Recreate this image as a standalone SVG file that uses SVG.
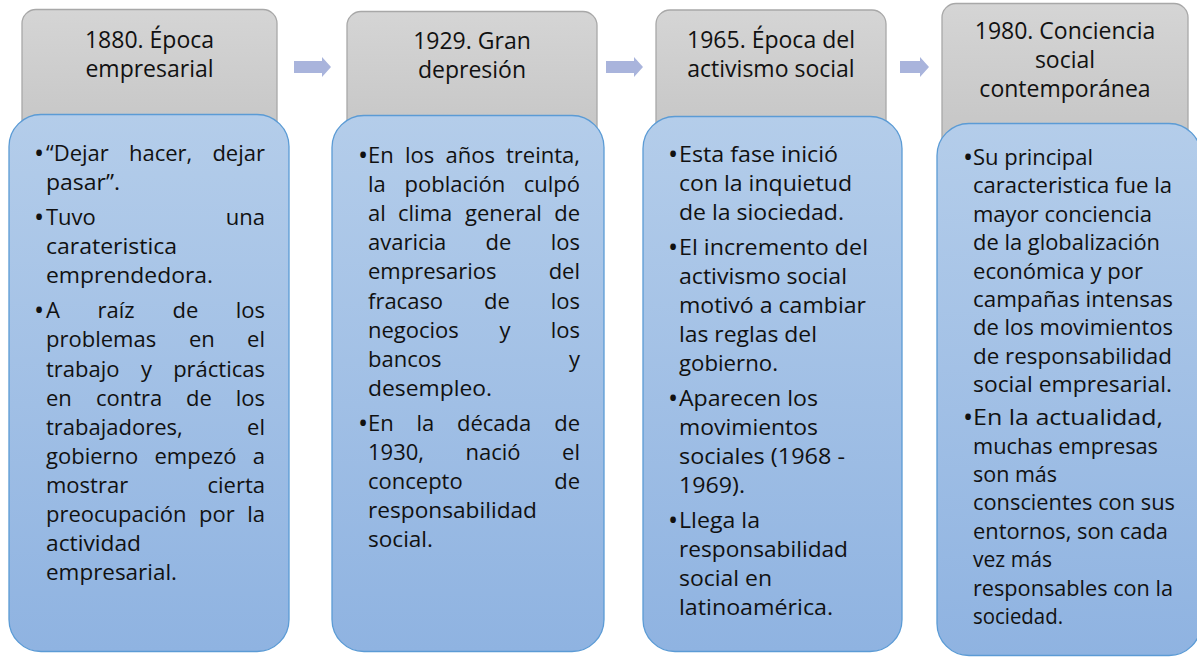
<svg xmlns="http://www.w3.org/2000/svg" width="1197" height="658" viewBox="0 0 1197 658">
<defs>
<linearGradient id="gg" x1="0" y1="0" x2="0" y2="1"><stop offset="0" stop-color="#d5d5d5"/><stop offset="1" stop-color="#c4c4c4"/></linearGradient>
<linearGradient id="bg" x1="0" y1="0" x2="0" y2="1"><stop offset="0" stop-color="#b4cdea"/><stop offset="1" stop-color="#8fb3e1"/></linearGradient>
<style>
.hd{font-family:"Open Sans","Noto Sans",sans-serif;font-size:23px;fill:#111;text-anchor:middle}
.t{font-family:"Open Sans","Noto Sans",sans-serif;font-size:22px;fill:#111}
.bu{font-family:"Open Sans","Noto Sans",sans-serif;font-size:27px;fill:#111}
.e{text-anchor:end}
.g{fill:url(#gg);stroke:#a8a8a8;stroke-width:1.3}
.b{fill:url(#bg);stroke:#5b9bd5;stroke-width:1.3}
.ar{fill:#a9b4dc}
</style>
</defs>
<rect width="1197" height="658" fill="#ffffff"/>

<g id="connectors">
<path class="ar" d="M294,61 H322 V57 L331,67 L322,77 V73 H294 Z"/>
<path class="ar" d="M606,61 H634 V57 L643,67 L634,77 V73 H606 Z"/>
<path class="ar" d="M900,61 H920 V57 L929,67 L920,77 V73 H900 Z"/>
</g>

<g id="stage1">
<g id="stage1-title">
<rect class="g" x="22" y="9.5" width="255" height="140" rx="14"/>
<text class="hd" x="149.5" y="48">1880. Época</text>
<text class="hd" x="149.5" y="77">empresarial</text>
</g>
<g id="stage1-body">
<rect class="b" x="9" y="114.5" width="280" height="537" rx="32"/>
<text class="bu" x="34" y="163">•</text>
<text class="t" y="161"><tspan x="46">“Dejar</tspan><tspan x="129">hacer,</tspan></text><text class="t e" x="265" y="161">dejar</text>
<text class="t" x="46" y="190.1" textLength="74" lengthAdjust="spacingAndGlyphs">pasar”.</text>
<text class="bu" x="34" y="227.1">•</text>
<text class="t" x="46" y="225.1">Tuvo</text><text class="t e" x="265" y="225.1">una</text>
<text class="t" x="46" y="254.2" textLength="131" lengthAdjust="spacingAndGlyphs">carateristica</text>
<text class="t" x="46" y="283.3" textLength="167" lengthAdjust="spacingAndGlyphs">emprendedora.</text>
<text class="bu" x="34" y="320.3">•</text>
<text class="t" y="318.3"><tspan x="46">A</tspan><tspan x="97.5">raíz</tspan><tspan x="172.5">de</tspan></text><text class="t e" x="265" y="318.3">los</text>
<text class="t" y="347.4"><tspan x="46">problemas</tspan><tspan x="189">en</tspan></text><text class="t e" x="265" y="347.4">el</text>
<text class="t" y="376.5"><tspan x="46">trabajo</tspan><tspan x="141">y</tspan></text><text class="t e" x="265" y="376.5">prácticas</text>
<text class="t" y="405.6"><tspan x="46">en</tspan><tspan x="96">contra</tspan><tspan x="186">de</tspan></text><text class="t e" x="265" y="405.6">los</text>
<text class="t" x="46" y="434.7">trabajadores,</text><text class="t e" x="265" y="434.7">el</text>
<text class="t" y="463.8"><tspan x="46">gobierno</tspan><tspan x="154.5">empezó</tspan></text><text class="t e" x="265" y="463.8">a</text>
<text class="t" x="46" y="492.9">mostrar</text><text class="t e" x="265" y="492.9">cierta</text>
<text class="t" y="522"><tspan x="46">preocupación</tspan><tspan x="199">por</tspan></text><text class="t e" x="265" y="522">la</text>
<text class="t" x="46" y="551.1" textLength="95" lengthAdjust="spacingAndGlyphs">actividad</text>
<text class="t" x="46" y="580.2" textLength="131" lengthAdjust="spacingAndGlyphs">empresarial.</text>
</g>
</g>

<g id="stage2">
<g id="stage2-title">
<rect class="g" x="347" y="11.5" width="250" height="140" rx="14"/>
<text class="hd" x="472" y="49">1929. Gran</text>
<text class="hd" x="472" y="78">depresión</text>
</g>
<g id="stage2-body">
<rect class="b" x="332" y="115.5" width="272" height="536" rx="32"/>
<text class="bu" x="358" y="165">•</text>
<text class="t" y="163"><tspan x="368">En</tspan><tspan x="405">los</tspan><tspan x="445.5">años</tspan></text><text class="t e" x="580" y="163">treinta,</text>
<text class="t" y="192.1"><tspan x="368">la</tspan><tspan x="404.5">población</tspan></text><text class="t e" x="580" y="192.1">culpó</text>
<text class="t" y="221.2"><tspan x="368">al</tspan><tspan x="398">clima</tspan><tspan x="465">general</tspan></text><text class="t e" x="580" y="221.2">de</text>
<text class="t" y="250.3"><tspan x="368">avaricia</tspan><tspan x="485.5">de</tspan></text><text class="t e" x="580" y="250.3">los</text>
<text class="t" x="368" y="279.4">empresarios</text><text class="t e" x="580" y="279.4">del</text>
<text class="t" y="308.5"><tspan x="368">fracaso</tspan><tspan x="484">de</tspan></text><text class="t e" x="580" y="308.5">los</text>
<text class="t" y="337.6"><tspan x="368">negocios</tspan><tspan x="499.5">y</tspan></text><text class="t e" x="580" y="337.6">los</text>
<text class="t" x="368" y="366.7">bancos</text><text class="t e" x="580" y="366.7">y</text>
<text class="t" x="368" y="395.8" textLength="124" lengthAdjust="spacingAndGlyphs">desempleo.</text>
<text class="bu" x="358" y="432.8">•</text>
<text class="t" y="430.8"><tspan x="368">En</tspan><tspan x="416.5">la</tspan><tspan x="457">década</tspan></text><text class="t e" x="580" y="430.8">de</text>
<text class="t" y="459.9"><tspan x="368">1930,</tspan><tspan x="465.5">nació</tspan></text><text class="t e" x="580" y="459.9">el</text>
<text class="t" x="368" y="489">concepto</text><text class="t e" x="580" y="489">de</text>
<text class="t" x="368" y="518.1" textLength="169" lengthAdjust="spacingAndGlyphs">responsabilidad</text>
<text class="t" x="368" y="547.2" textLength="65" lengthAdjust="spacingAndGlyphs">social.</text>
</g>
</g>

<g id="stage3">
<g id="stage3-title">
<rect class="g" x="656" y="10" width="230" height="140" rx="14"/>
<text class="hd" x="771" y="48">1965. Época del</text>
<text class="hd" x="771" y="77">activismo social</text>
</g>
<g id="stage3-body">
<rect class="b" x="643" y="116.5" width="259" height="535" rx="32"/>
<text class="bu" x="668" y="164">•</text>
<text class="t" x="679" y="162" textLength="159" lengthAdjust="spacingAndGlyphs">Esta fase inició</text>
<text class="t" x="679" y="191" textLength="173" lengthAdjust="spacingAndGlyphs">con la inquietud</text>
<text class="t" x="679" y="220" textLength="165" lengthAdjust="spacingAndGlyphs">de la siociedad.</text>
<text class="bu" x="668" y="257">•</text>
<text class="t" x="679" y="255" textLength="189" lengthAdjust="spacingAndGlyphs">El incremento del</text>
<text class="t" x="679" y="284" textLength="168" lengthAdjust="spacingAndGlyphs">activismo social</text>
<text class="t" x="679" y="313" textLength="187" lengthAdjust="spacingAndGlyphs">motivó a cambiar</text>
<text class="t" x="679" y="342" textLength="138" lengthAdjust="spacingAndGlyphs">las reglas del</text>
<text class="t" x="679" y="371" textLength="99" lengthAdjust="spacingAndGlyphs">gobierno.</text>
<text class="bu" x="668" y="408">•</text>
<text class="t" x="679" y="406" textLength="139" lengthAdjust="spacingAndGlyphs">Aparecen los</text>
<text class="t" x="679" y="435" textLength="139" lengthAdjust="spacingAndGlyphs">movimientos</text>
<text class="t" x="679" y="464" textLength="166" lengthAdjust="spacingAndGlyphs">sociales (1968 -</text>
<text class="t" x="679" y="493" textLength="66" lengthAdjust="spacingAndGlyphs">1969).</text>
<text class="bu" x="668" y="530">•</text>
<text class="t" x="679" y="528" textLength="81" lengthAdjust="spacingAndGlyphs">Llega la</text>
<text class="t" x="679" y="557" textLength="169" lengthAdjust="spacingAndGlyphs">responsabilidad</text>
<text class="t" x="679" y="586" textLength="93" lengthAdjust="spacingAndGlyphs">social en</text>
<text class="t" x="679" y="615" textLength="154" lengthAdjust="spacingAndGlyphs">latinoamérica.</text>
</g>
</g>

<g id="stage4">
<g id="stage4-title">
<rect class="g" x="942" y="3.5" width="246" height="150" rx="14"/>
<text class="hd" x="1065" y="39">1980. Conciencia</text>
<text class="hd" x="1065" y="68">social</text>
<text class="hd" x="1065" y="97">contemporánea</text>
</g>
<g id="stage4-body">
<rect class="b" x="937" y="123.5" width="264" height="532" rx="32"/>
<text class="bu" x="963" y="167">•</text>
<text class="t" x="973" y="165" textLength="120" lengthAdjust="spacingAndGlyphs">Su principal</text>
<text class="t" x="973" y="193.4" textLength="199" lengthAdjust="spacingAndGlyphs">caracteristica fue la</text>
<text class="t" x="973" y="221.8" textLength="179" lengthAdjust="spacingAndGlyphs">mayor conciencia</text>
<text class="t" x="973" y="250.2" textLength="187" lengthAdjust="spacingAndGlyphs">de la globalización</text>
<text class="t" x="973" y="278.6" textLength="170" lengthAdjust="spacingAndGlyphs">económica y por</text>
<text class="t" x="973" y="307" textLength="200" lengthAdjust="spacingAndGlyphs">campañas intensas</text>
<text class="t" x="973" y="335.4" textLength="200" lengthAdjust="spacingAndGlyphs">de los movimientos</text>
<text class="t" x="973" y="363.8" textLength="199" lengthAdjust="spacingAndGlyphs">de responsabilidad</text>
<text class="t" x="973" y="392.2" textLength="199" lengthAdjust="spacingAndGlyphs">social empresarial.</text>
<text class="bu" x="963" y="427.2">•</text>
<text class="t" x="973" y="425.2" textLength="190" lengthAdjust="spacingAndGlyphs">En la actualidad,</text>
<text class="t" x="973" y="453.6" textLength="185" lengthAdjust="spacingAndGlyphs">muchas empresas</text>
<text class="t" x="973" y="482" textLength="84" lengthAdjust="spacingAndGlyphs">son más</text>
<text class="t" x="973" y="510.4" textLength="202" lengthAdjust="spacingAndGlyphs">conscientes con sus</text>
<text class="t" x="973" y="538.8" textLength="195" lengthAdjust="spacingAndGlyphs">entornos, son cada</text>
<text class="t" x="973" y="567.2" textLength="79" lengthAdjust="spacingAndGlyphs">vez más</text>
<text class="t" x="973" y="595.6" textLength="200" lengthAdjust="spacingAndGlyphs">responsables con la</text>
<text class="t" x="973" y="624" textLength="90" lengthAdjust="spacingAndGlyphs">sociedad.</text>
</g>
</g>
</svg>
